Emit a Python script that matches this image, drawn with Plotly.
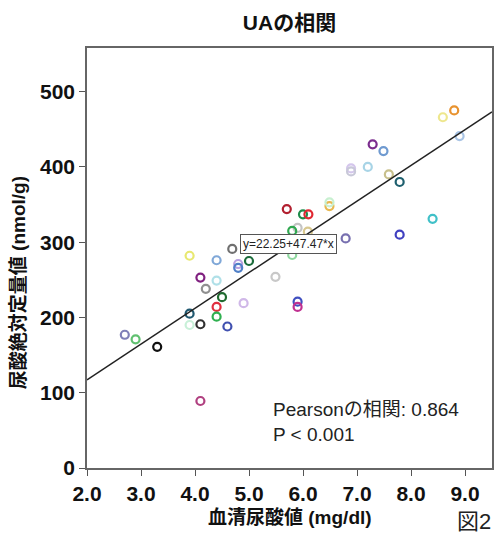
import plotly.graph_objects as go

# Data
serum_ua = [8.80, 8.59, 8.90, 7.29, 7.49, 6.89, 6.89, 7.20, 7.59, 7.79,
            5.70, 6.00, 6.10, 6.49, 6.49, 8.40, 5.90, 6.09, 5.80, 6.79,
            7.79, 5.80, 4.69, 3.90, 4.40, 4.80, 4.80, 5.00, 4.10, 4.40,
            4.20, 5.49, 4.50, 4.40, 4.40, 4.90, 5.90, 5.90, 3.90, 3.90,
            4.10, 4.60, 2.70, 2.90, 3.30, 4.10]
urine_ua = [475, 466, 441, 430, 421, 398, 394, 400, 390, 380,
            344, 337, 337, 348, 353, 331, 319, 314, 315, 305,
            310, 283, 291, 282, 276, 271, 266, 275, 253, 249,
            238, 254, 227, 214, 201, 219, 221, 214, 205, 190,
            191, 188, 177, 171, 161, 89]
point_colors = ["#E8922E", "#EEE78E", "#A9C4E4", "#7B2D8E", "#6F9AD0", "#D4C6EC", "#C8C8D8", "#A8D4E6", "#C8C08C", "#1E5F6E",
                "#B22030", "#1E8C4A", "#E02832", "#E8B850", "#C8F0D0", "#40C0C8", "#C4C4C4", "#D8C890", "#30A850", "#7870B0",
                "#4040C0", "#90D8A0", "#707070", "#E8E870", "#80A8D8", "#B8A0E0", "#5080C8", "#1A6B3A", "#802080", "#B0E0E8",
                "#909090", "#C8C8C8", "#206B30", "#E03040", "#30B050", "#D0B8E8", "#4050C0", "#C03090", "#205870", "#C8F0D8",
                "#303030", "#4050B0", "#8080B8", "#60C070", "#101010", "#B04080"]

intercept = 22.25
slope = 47.47
x_ticks = [2, 3, 4, 5, 6, 7, 8, 9]
x_tick_labels = ["2.0", "3.0", "4.0", "5.0", "6.0", "7.0", "8.0", "9.0"]
y_ticks = [0, 100, 200, 300, 400, 500]

FONT = "Liberation Sans, Arial, Noto Sans CJK JP, sans-serif"
PLOT_H = 537 - 48 - 69  # plot area height in px
PLOT_W = 494 - 87 - 2

fig = go.Figure()
fig.add_trace(go.Scatter(
    x=serum_ua, y=urine_ua, mode="markers",
    marker=dict(symbol="circle-open", size=8, color=point_colors,
                line=dict(width=2.2, color=point_colors)),
    showlegend=False, hoverinfo="x+y"))

x_line = [2.0, 9.5]
fig.add_trace(go.Scatter(
    x=x_line, y=[intercept + slope * v for v in x_line], mode="lines",
    line=dict(color="#222222", width=1.5), showlegend=False, hoverinfo="skip"))

fig.add_annotation(x=5.74, y=297, xref="x", yref="y",
                   text=f"y={intercept:.2f}+{slope:.2f}*x", showarrow=False,
                   font=dict(family=FONT, size=12, color="#222222"),
                   bordercolor="#555555", borderwidth=1, borderpad=2, bgcolor="white")

fig.add_annotation(x=5.41, y=61, xref="x", yref="y", xanchor="left", yanchor="middle",
                   align="left", text="Pearsonの相関: 0.864<br>P < 0.001", showarrow=False,
                   font=dict(family=FONT, size=19, color="#222222"))

# axis titles
fig.add_annotation(x=0.5, y=-49 / PLOT_H, xref="paper", yref="paper", xanchor="center", yanchor="middle",
                   text="<b>血清尿酸値 (mg/dl)</b>", showarrow=False,
                   font=dict(family=FONT, size=19, color="#111111"))
fig.add_annotation(x=-69 / PLOT_W, y=0.44, xref="paper", yref="paper", xanchor="center", yanchor="middle",
                   text="<b>尿酸絶対定量値 (nmol/g)</b>", showarrow=False, textangle=-90,
                   font=dict(family=FONT, size=19, color="#111111"))

fig.add_annotation(x=1.0, y=-53 / PLOT_H, xref="paper", yref="paper", xanchor="right", yanchor="middle",
                   xshift=1, text="図2", showarrow=False,
                   font=dict(family=FONT, size=22, color="#222222"))

fig.update_layout(
    width=494, height=537,
    margin=dict(l=87, r=2, t=48, b=69, autoexpand=False),
    paper_bgcolor="white", plot_bgcolor="white",
    title=dict(text="<b>UAの相関</b>", x=0.586, xanchor="center", y=0.958, yanchor="middle",
               font=dict(family=FONT, size=21, color="#111111")),
    font=dict(family=FONT, color="#111111"),
)
fig.update_xaxes(range=[2.0, 9.5], tickvals=x_ticks, ticktext=x_tick_labels, automargin=False,
                 ticks="outside", ticklen=6, tickwidth=1.2, tickcolor="#555555",
                 showline=True, linecolor="#666666", linewidth=1.5, mirror=True,
                 showgrid=False, zeroline=False,
                 tickfont=dict(family=FONT, size=21, weight="bold", color="#111111"))
fig.update_yaxes(range=[0, 558], tickvals=y_ticks, automargin=False,
                 ticks="outside", ticklen=6, tickwidth=1.2, tickcolor="#555555",
                 showline=True, linecolor="#666666", linewidth=1.5, mirror=True,
                 showgrid=False, zeroline=False,
                 tickfont=dict(family=FONT, size=21, weight="bold", color="#111111"))

fig.write_html("out.html", config={"displayModeBar": False},
               post_script="document.body.style.margin='0';document.body.style.overflow='hidden';")
